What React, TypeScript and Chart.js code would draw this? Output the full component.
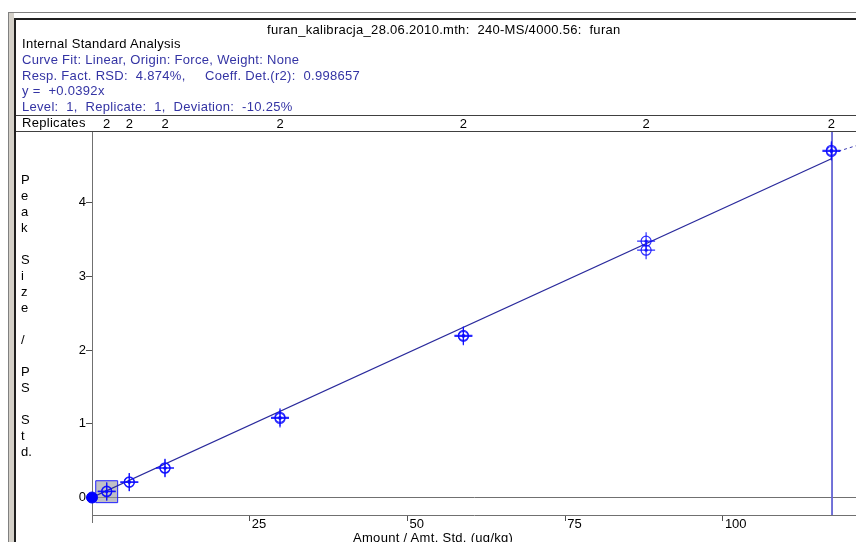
import { useEffect, useRef } from "react";
import { Chart, registerables } from "chart.js";
Chart.register(...registerables);

// ---- data ----
const levelAmounts = [2.33, 5.91, 11.57, 29.8, 58.87, 87.83, 117.2];
const replicateCounts = [2, 2, 2, 2, 2, 2, 2];
const rep1Responses = [0.079, 0.206, 0.397, 1.072, 2.186, 3.476, 4.692];
const rep2Responses = [0.086, 0.212, 0.404, 1.088, 2.198, 3.354, 4.708];
const fitAmounts = [0, 117.2];
const fitResponses = [0, 4.594];
const extAmounts = [118.3, 121.3];
const extResponses = [4.695, 4.776];
const xTickValues = [25, 50, 75, 100];
const yTickValues = [0, 1, 2, 3, 4];
const selectedLevel = 0;
const currentLevel = 6;
const xMin = 0;
const xMax = 121.1;
const yMin = -0.237;
const yMax = 4.97;

const FONT = '"Liberation Sans", Arial, sans-serif';
const yLetters = ["P", "e", "a", "k", "", "S", "i", "z", "e", "", "/", "", "P", "S", "", "S", "t", "d."];

const headerLines: { text: string; top: number; color: string }[] = [
  { text: "Internal Standard Analysis", top: 36, color: "#000" },
  { text: "Curve Fit: Linear, Origin: Force, Weight: None", top: 51.5, color: "#3434a4" },
  { text: "Resp. Fact. RSD:  4.874%,     Coeff. Det.(r2):  0.998657", top: 67.5, color: "#3434a4" },
  { text: "y =  +0.0392x", top: 83, color: "#3434a4" },
  { text: "Level:  1,  Replicate:  1,  Deviation:  -10.25%", top: 99, color: "#3434a4" },
];

export default function App() {
  const ref = useRef<HTMLCanvasElement>(null);

  useEffect(() => {
    if (!ref.current) return;
    const pts = (ys: number[]) => levelAmounts.map((a, i) => ({ x: a, y: ys[i] }));
    const allPts = [...pts(rep1Responses), ...pts(rep2Responses)];
    const markerColor = "rgba(10,10,255,0.85)";

    const replicatesPlugin = {
      id: "replicates",
      afterDraw(chart: any) {
        const ctx = chart.ctx;
        const xs = chart.scales.x;
        ctx.save();
        ctx.font = `13px ${FONT}`;
        ctx.fillStyle = "#000";
        ctx.textAlign = "center";
        ctx.textBaseline = "middle";
        levelAmounts.forEach((a, i) => {
          ctx.fillText(String(replicateCounts[i]), xs.getPixelForValue(a), 124);
        });
        // y axis line continues a little below the x axis
        const area = chart.chartArea;
        ctx.strokeStyle = "#707070";
        ctx.lineWidth = 1;
        ctx.beginPath();
        ctx.moveTo(area.left + 0.5, area.bottom);
        ctx.lineTo(area.left + 0.5, area.bottom + 8);
        ctx.stroke();
        ctx.restore();
      },
    };

    const chart = new Chart(ref.current, {
      type: "scatter",
      data: {
        datasets: [
          {
            label: "origin",
            data: [{ x: 0, y: 0 }],
            pointRadius: 5.5,
            pointBackgroundColor: "#0000ff",
            pointBorderColor: "#0000ff",
            clip: false as any,
            order: 0,
          },
          {
            label: "dots",
            data: allPts,
            pointRadius: 1.6,
            pointBackgroundColor: markerColor,
            pointBorderWidth: 0,
            order: 1,
          },
          {
            label: "circles",
            data: allPts,
            pointRadius: 5,
            pointBackgroundColor: "rgba(0,0,0,0)",
            pointBorderColor: markerColor,
            pointBorderWidth: 1.2,
            order: 2,
          },
          {
            label: "crosses",
            data: allPts,
            pointStyle: "cross",
            pointRadius: 9,
            pointBorderColor: markerColor,
            pointBorderWidth: 1.2,
            order: 3,
          },
          {
            type: "line",
            label: "fit",
            data: fitAmounts.map((a, i) => ({ x: a, y: fitResponses[i] })),
            borderColor: "#2a2a9c",
            borderWidth: 1.3,
            pointRadius: 0,
            showLine: true,
            order: 5,
          } as any,
          {
            type: "line",
            label: "ext",
            data: extAmounts.map((a, i) => ({ x: a, y: extResponses[i] })),
            borderColor: "#3a3ab0",
            borderWidth: 1,
            borderDash: [3, 3],
            pointRadius: 0,
            showLine: true,
            order: 5,
          } as any,
          {
            type: "line",
            label: "current",
            data: [
              { x: levelAmounts[currentLevel] + 0.1, y: yMin },
              { x: levelAmounts[currentLevel] + 0.1, y: yMax },
            ],
            borderColor: "rgb(100,100,212)",
            borderWidth: 1.8,
            pointRadius: 0,
            showLine: true,
            order: 6,
          } as any,
          {
            label: "selected",
            data: [{ x: levelAmounts[selectedLevel], y: rep1Responses[selectedLevel] }],
            pointStyle: "rect",
            pointRadius: 15.5,
            pointBackgroundColor: "rgba(150,150,160,0.6)",
            pointBorderColor: "#2020ff",
            pointBorderWidth: 1,
            order: 10,
          },
        ],
      },
      options: {
        animation: false,
        responsive: false,
        devicePixelRatio: 1,
        events: [],
        layout: { autoPadding: false, padding: { top: 131, left: 0, right: 0, bottom: 0 } },
        plugins: { legend: { display: false }, tooltip: { enabled: false } },
        scales: {
          x: {
            type: "linear",
            min: xMin,
            max: xMax,
            afterBuildTicks: (s: any) => {
              s.ticks = xTickValues.map((v) => ({ value: v }));
            },
            afterFit: (s: any) => {
              s.height = 27;
              s.paddingLeft = 0;
              s.paddingRight = 0;
            },
            grid: { drawOnChartArea: false, tickLength: 6, tickColor: "#505050" },
            border: { color: "#707070" },
            ticks: {
              align: "start",
              labelOffset: 2,
              padding: -4,
              maxRotation: 0,
              autoSkip: false,
              color: "#000",
              font: { family: FONT, size: 13 },
            },
          },
          y: {
            type: "linear",
            min: yMin,
            max: yMax,
            afterBuildTicks: (s: any) => {
              s.ticks = yTickValues.map((v) => ({ value: v }));
            },
            afterFit: (s: any) => {
              s.width = 92;
              s.paddingTop = 0;
              s.paddingBottom = 0;
            },
            grid: {
              drawOnChartArea: true,
              color: (c: any) => (c.tick && c.tick.value === 0 ? "#707070" : "rgba(0,0,0,0)"),
              tickLength: 6,
              tickColor: "#505050",
            },
            border: { color: "#707070" },
            ticks: {
              padding: 0,
              color: "#000",
              font: { family: FONT, size: 13 },
            },
          },
        },
      } as any,
      plugins: [replicatesPlugin],
    });
    return () => chart.destroy();
  }, []);

  const abs = (s: any) => ({ position: "absolute" as const, ...s });
  const txt = { whiteSpace: "pre", lineHeight: "15px", letterSpacing: "0.3px" };
  return (
    <div style={abs({ left: 0, top: 0, width: 856, height: 542, overflow: "hidden", background: "#fff", fontFamily: FONT, fontSize: 13 })}>
      <canvas ref={ref} width={856} height={542} style={abs({ left: 0, top: 0 })} />
      {/* window frame */}
      <div style={abs({ left: 8, top: 12, right: 0, height: 1, background: "#808080" })} />
      <div style={abs({ left: 14, top: 18, right: 0, height: 2, background: "#202020" })} />
      <div style={abs({ left: 8, top: 12, width: 1, bottom: 0, background: "#808080" })} />
      <div style={abs({ left: 9, top: 13, width: 5, bottom: 0, background: "#d4d0c8" })} />
      <div style={abs({ left: 14, top: 18, width: 2, bottom: 0, background: "#202020" })} />
      {/* separators */}
      <div style={abs({ left: 16, top: 115, right: 0, height: 1, background: "#404040" })} />
      <div style={abs({ left: 16, top: 131, right: 0, height: 1, background: "#404040" })} />
      {/* header text */}
      <div style={abs({ left: 267, top: 22, color: "#000", ...txt })}>
        furan_kalibracja_28.06.2010.mth:  240-MS/4000.56:  furan
      </div>
      {headerLines.map((l, i) => (
        <div key={i} style={abs({ left: 22, top: l.top, color: l.color, ...txt })}>
          {l.text}
        </div>
      ))}
      <div style={abs({ left: 22, top: 115, color: "#000", ...txt })}>Replicates</div>
      {/* y axis title, stacked */}
      <div style={abs({ left: 21, top: 172, lineHeight: "16px", color: "#000" })}>
        {yLetters.map((c, i) => (
          <div key={i} style={{ height: 16 }}>{c}</div>
        ))}
      </div>
      {/* x axis title */}
      <div style={abs({ left: 353, top: 529.5, color: "#000", ...txt })}>
        Amount / Amt. Std. (ug/kg)
      </div>
    </div>
  );
}
